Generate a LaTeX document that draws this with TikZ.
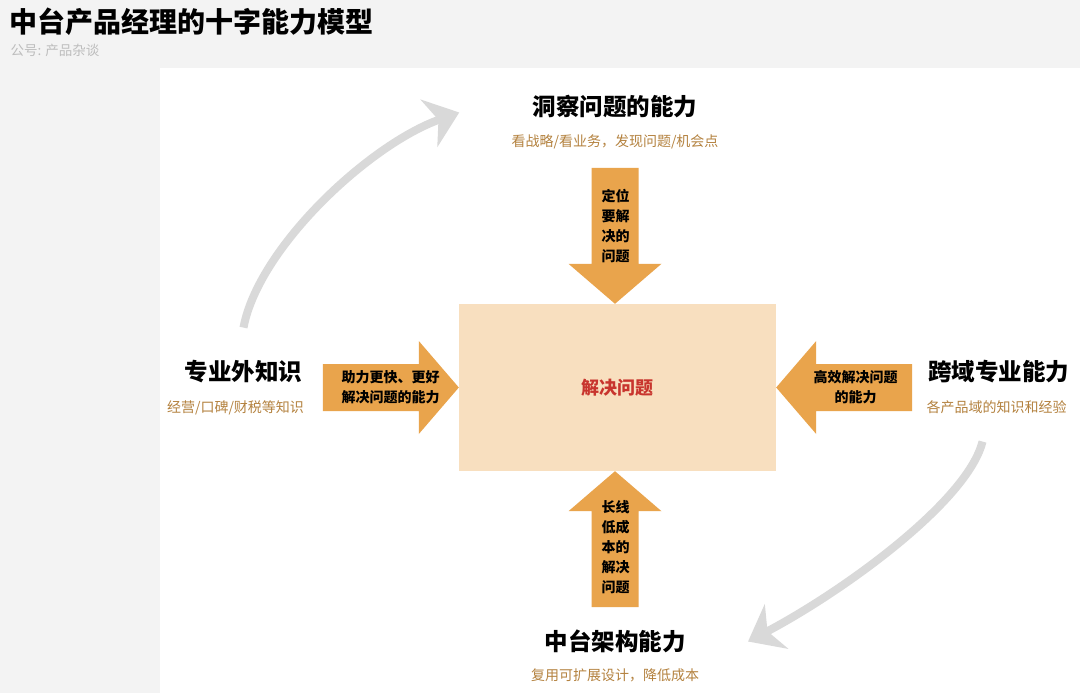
\documentclass[tikz,border=0pt]{standalone}
\usepackage{fontspec}
\setmainfont{Noto Sans CJK SC}
\usetikzlibrary{positioning, arrows.meta}
\definecolor{pagegray}{HTML}{F3F3F3}
\definecolor{arroworange}{HTML}{E9A44C}
\definecolor{corefill}{HTML}{F8DFBF}
\definecolor{corered}{HTML}{C8352E}
\definecolor{notebrown}{HTML}{B4823F}
\definecolor{cyclegray}{HTML}{D9D9D9}
\definecolor{sourcegray}{HTML}{BDBDBD}

\begin{document}
\begin{tikzpicture}[x=1pt,y=-1pt,>=Stealth,on grid]
\tikzstyle{heading}=[font=\bfseries\fontsize{23.5}{27}\selectfont, text=black]
\tikzstyle{note}=[font=\fontsize{14}{17}\selectfont, text=notebrown]
\tikzstyle{core}=[fill=corefill, minimum width=317pt, minimum height=167pt, text=corered, font=\bfseries\fontsize{18}{21}\selectfont]
\tikzstyle{arrowtext}=[font=\bfseries\fontsize{14}{20}\selectfont, align=center]
\tikzstyle{blockarrow}=[fill=arroworange]
\tikzstyle{cyclearrow}=[draw=cyclegray, line width=8pt, -{Stealth[length=32pt,width=50pt,inset=10pt]}]

  \useasboundingbox (0,0) rectangle (1080,693);
  \fill[pagegray] (0,0) rectangle (1080,693);
  \fill[white] (160,68) rectangle (1080,693);

  %--- title ---
  \node[anchor=west, font=\bfseries\fontsize{28}{32}\selectfont] (title) at (6,22) {中台产品经理的十字能力模型};
  \node[anchor=west, font=\fontsize{13.5}{15}\selectfont, text=sourcegray] (source) at (7,50) {公号: 产品杂谈};

  %--- nodes ---
  \node[core] (core) at (617.5,387.5) {解决问题};
  \node[heading] (top) [above=281pt of core, xshift=-2.5pt] {洞察问题的能力};
  \node[note] (topsub) [below=35pt of top] {看战略/看业务，发现问题/机会点};
  \node[heading] (left) [left=374pt of core, yshift=16pt] {专业外知识};
  \node[note] (leftsub) [below=36pt of left, xshift=-8pt] {经营/口碑/财税等知识};
  \node[heading] (right) [right=381pt of core, yshift=16pt] {跨域专业能力};
  \node[note] (rightsub) [below=36pt of right, xshift=-2pt] {各产品域的知识和经验};
  \node[heading] (bottom) [below=254pt of core, xshift=-2.5pt] {中台架构能力};
  \node[note] (bottomsub) [below=34pt of bottom] {复用可扩展设计，降低成本};

  %--- block arrows ---
  \fill[blockarrow] ([xshift=-2.5pt]core.north) -- ++(-46.5,-40) -- ++(23,0) -- ++(0,-96) -- ++(47,0) -- ++(0,96) -- ++(23,0) -- cycle;
  \fill[blockarrow] ([xshift=-2.5pt]core.south) -- ++(-46.5,40) -- ++(23,0) -- ++(0,96) -- ++(47,0) -- ++(0,-96) -- ++(23,0) -- cycle;
  \fill[blockarrow] (core.west) -- ++(-40,-46.5) -- ++(0,23) -- ++(-96,0) -- ++(0,47) -- ++(96,0) -- ++(0,23) -- cycle;
  \fill[blockarrow] (core.east) -- ++(40,-46.5) -- ++(0,23) -- ++(96,0) -- ++(0,47) -- ++(-96,0) -- ++(0,23) -- cycle;

  \node[arrowtext] (insighttext) [above=161pt of core, xshift=-2pt] {定位\\要解\\决的\\问题};
  \node[arrowtext] (archtext) [below=160pt of core, xshift=-2pt] {长线\\低成\\本的\\解决\\问题};
  \node[arrowtext] (knowtext) [left=227pt of core] {助力更快、更好\\解决问题的能力};
  \node[arrowtext] (domaintext) [right=238pt of core] {高效解决问题\\的能力};

  %--- cycle ---
  \draw[cyclearrow] ([yshift=29pt]left.north) .. controls +(15,-80) and +(-90,32) .. ([xshift=-70pt,yshift=-6pt]top.west);
  \draw[cyclearrow] ([xshift=-14pt,yshift=-24pt]rightsub.south) .. controls +(-15,60) and +(95,-50) .. ([xshift=59pt]bottom.east);
\end{tikzpicture}
\end{document}
